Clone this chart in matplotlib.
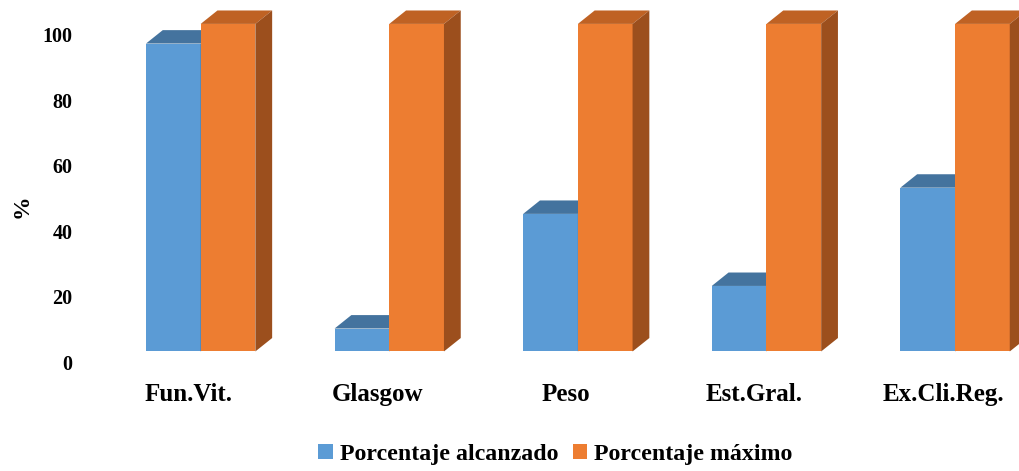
import matplotlib.pyplot as plt
from matplotlib.patches import Polygon, Patch

categories = ["Fun.Vit.", "Glasgow", "Peso", "Est.Gral.", "Ex.Cli.Reg."]
alcanzado = [94, 7, 42, 20, 50]
maximo = [100, 100, 100, 100, 100]
yticks = [0, 20, 40, 60, 80, 100]

blue = "#5B9BD5"
blue_top = "#44739E"
blue_side = "#3D6A93"
orange = "#ED7D31"
orange_top = "#BF6224"
orange_side = "#9C4F1D"

plt.rcParams["font.family"] = ["Liberation Serif", "DejaVu Serif"]
plt.rcParams["font.weight"] = "bold"

fig = plt.figure(figsize=(10.19, 4.71), dpi=100)
ax = fig.add_axes([0, 0, 1, 1])
ax.set_xlim(-1.064, 4.339)
ax.set_ylim(-36.5, 107.3)
ax.axis("off")

width = 0.29
depth_x = 0.089   # depth of the 3d boxes, in data units
depth_y = 4.1


def box(x0, h, face, top, side):
    x1 = x0 + width
    ax.bar(x0, h, width=width, align="edge", color=face, zorder=2)
    ax.add_patch(Polygon([(x0, h), (x1, h), (x1 + depth_x, h + depth_y),
                          (x0 + depth_x, h + depth_y)], closed=True,
                         facecolor=top, edgecolor="none", zorder=2))
    ax.add_patch(Polygon([(x1, 0), (x1 + depth_x, depth_y),
                          (x1 + depth_x, h + depth_y), (x1, h)], closed=True,
                         facecolor=side, edgecolor="none", zorder=2,
                         clip_on=False))


for i, (a, m) in enumerate(zip(alcanzado, maximo)):
    box(i - width, a, blue, blue_top, blue_side)
    box(i, m, orange, orange_top, orange_side)
    ax.text(i - 0.064, -15.1, categories[i], ha="center", va="baseline",
            fontsize=18, fontweight="bold")

for v in yticks:
    ax.text(-0.680, v - 4.0, str(v), ha="right", va="center",
            fontsize=14.5, fontweight="bold")

ax.text(-0.947, 44.4, "%", rotation=90, ha="center", va="center",
        fontsize=17, fontweight="bold")

handles = [Patch(facecolor=blue, label="Porcentaje alcanzado"),
           Patch(facecolor=orange, label="Porcentaje máximo")]
fig.legend(handles=handles, loc="center", bbox_to_anchor=(0.545, 0.036),
           ncol=2, frameon=False, handlelength=0.6,
           handleheight=0.6, handletextpad=0.3, columnspacing=0.6,
           prop={"weight": "bold", "size": 17.2})

fig.savefig("out.png", dpi=100)
